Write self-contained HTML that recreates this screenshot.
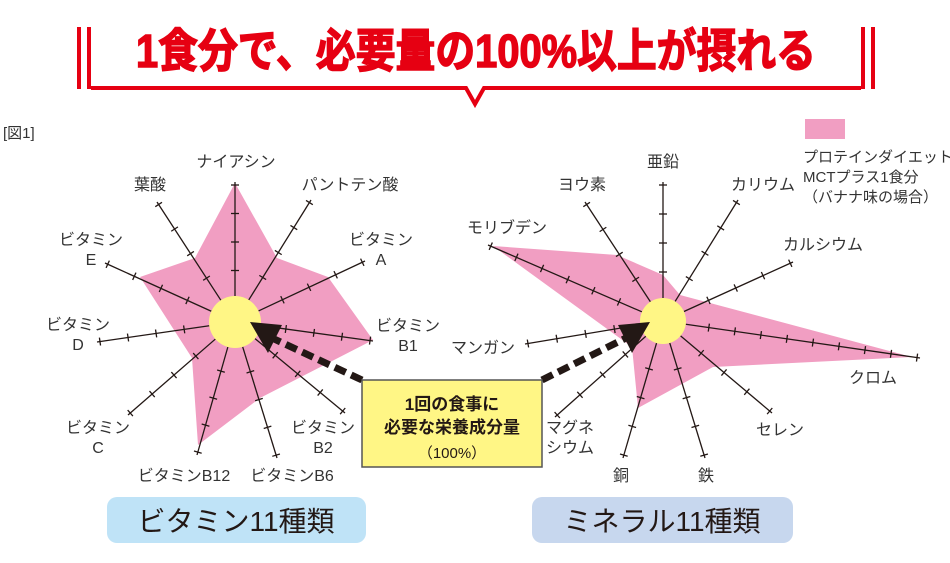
<!DOCTYPE html>
<html><head><meta charset="utf-8"><style>
body{margin:0;background:#fff;width:950px;height:563px;overflow:hidden;font-family:"Liberation Sans","Noto Sans CJK JP",sans-serif;}
</style></head><body>
<svg id="s" width="950" height="563" xmlns="http://www.w3.org/2000/svg" style="position:absolute;left:0;top:0">
<g fill="#e60012">
<rect x="77" y="27" width="4" height="62"/><rect x="87" y="27" width="4" height="62"/>
<rect x="861" y="27" width="4" height="62"/><rect x="871" y="27" width="4" height="62"/>
</g>
<polyline points="91,88 466,88 475,104 484,88 861,88" fill="none" stroke="#e60012" stroke-width="4"/>
<text x="476" y="67" text-anchor="middle" font-size="46" font-weight="bold" fill="#e60012" stroke="#e60012" stroke-width="1.5" textLength="680" lengthAdjust="spacingAndGlyphs">1食分で、必要量の100%以上が摂れる</text>
<text x="3" y="138" font-size="15" fill="#333">[図1]</text>
<rect x="805" y="119" width="40" height="20" fill="#f19ec2"/>
<g font-size="15" fill="#333"><text x="803" y="162">プロテインダイエット</text><text x="803" y="182">MCTプラス1食分</text><text x="803" y="202">（バナナ味の場合）</text></g>
<polygon points="235,183 277,258 328,277 373,340 260,398 198,445 192,358 140,277 195,258" fill="#f19ec2"/>
<polygon points="493,246 617,255 663,275 680,295 912,357 713,367 638,408 632,347" fill="#f19ec2"/>
<g id="axes" stroke="#231815" stroke-width="1.3"></g>
<circle cx="235" cy="322" r="26" fill="#fff685"/>
<circle cx="663" cy="321" r="23" fill="#fff685"/>
<g stroke="#231815" stroke-width="7" stroke-dasharray="12,6" fill="none">
<line x1="362" y1="380" x2="272" y2="338"/><line x1="542" y1="380" x2="626" y2="338"/>
</g>
<polygon points="250,322 282,325 268,353" fill="#231815"/>
<polygon points="650,322 618,325 632,353" fill="#231815"/>
<rect x="362" y="380" width="180" height="87" fill="#fff685" stroke="#555" stroke-width="1.5"/>
<g text-anchor="middle" fill="#231815">
<text x="452" y="410" font-size="17" font-weight="bold">1回の食事に</text>
<text x="452" y="433" font-size="17" font-weight="bold">必要な栄養成分量</text>
<text x="452" y="458" font-size="15">（100%）</text>
</g>
<rect x="107" y="497" width="259" height="46" rx="10" fill="#bfe3f7"/>
<rect x="532" y="497" width="261" height="46" rx="10" fill="#c7d7ee"/>
<g text-anchor="middle" font-size="28" fill="#231815">
<text x="236" y="531">ビタミン11種類</text><text x="662" y="531">ミネラル11種類</text>
</g>
<g font-size="16" fill="#333" text-anchor="middle">
<text x="236" y="167">ナイアシン</text><text x="150" y="190">葉酸</text><text x="350" y="190">パントテン酸</text>
<text x="381" y="245">ビタミン</text><text x="381" y="265">A</text>
<text x="91" y="245">ビタミン</text><text x="91" y="265">E</text>
<text x="78" y="330">ビタミン</text><text x="78" y="350">D</text>
<text x="408" y="331">ビタミン</text><text x="408" y="351">B1</text>
<text x="98" y="433">ビタミン</text><text x="98" y="453">C</text>
<text x="323" y="433">ビタミン</text><text x="323" y="453">B2</text>
<text x="184" y="481">ビタミンB12</text><text x="292" y="481">ビタミンB6</text>
<text x="663" y="167">亜鉛</text><text x="582" y="190">ヨウ素</text><text x="763" y="190">カリウム</text>
<text x="507" y="233">モリブデン</text><text x="823" y="250">カルシウム</text>
<text x="483" y="353">マンガン</text><text x="873" y="383">クロム</text>
<text x="570" y="433">マグネ</text><text x="570" y="453">シウム</text>
<text x="780" y="435">セレン</text><text x="621" y="481">銅</text><text x="706" y="481">鉄</text>
</g>
</svg>
<script>
var g=document.getElementById('axes');
function ax(cx,cy,r,ends){ends.forEach(function(e){var dx=e[0]-cx,dy=e[1]-cy,L=Math.hypot(dx,dy),ux=dx/L,uy=dy/L;
var l=document.createElementNS('http://www.w3.org/2000/svg','line');l.setAttribute('x1',cx+ux*r);l.setAttribute('y1',cy+uy*r);l.setAttribute('x2',e[0]);l.setAttribute('y2',e[1]);g.appendChild(l);
var n=Math.round((L-r)/27);for(var i=1;i<=n;i++){var d=L-3-(i-1)*(L-r)/n;var px=cx+ux*d,py=cy+uy*d;var t=document.createElementNS('http://www.w3.org/2000/svg','line');
t.setAttribute('x1',px-uy*4);t.setAttribute('y1',py+ux*4);t.setAttribute('x2',px+uy*4);t.setAttribute('y2',py-ux*4);g.appendChild(t);}});}
ax(235,322,26,[[235,182],[311,200],[365,261],[373,341],[345,413],[277,458],[197,455],[128,415],[97,342],[105,263],[157,202]]);
ax(663,321,23,[[663,182],[738,200],[793,262],[920,358],[772,413],[705,458],[623,458],[555,417],[525,344],[488,245],[585,202]]);
</script>
</body></html>
